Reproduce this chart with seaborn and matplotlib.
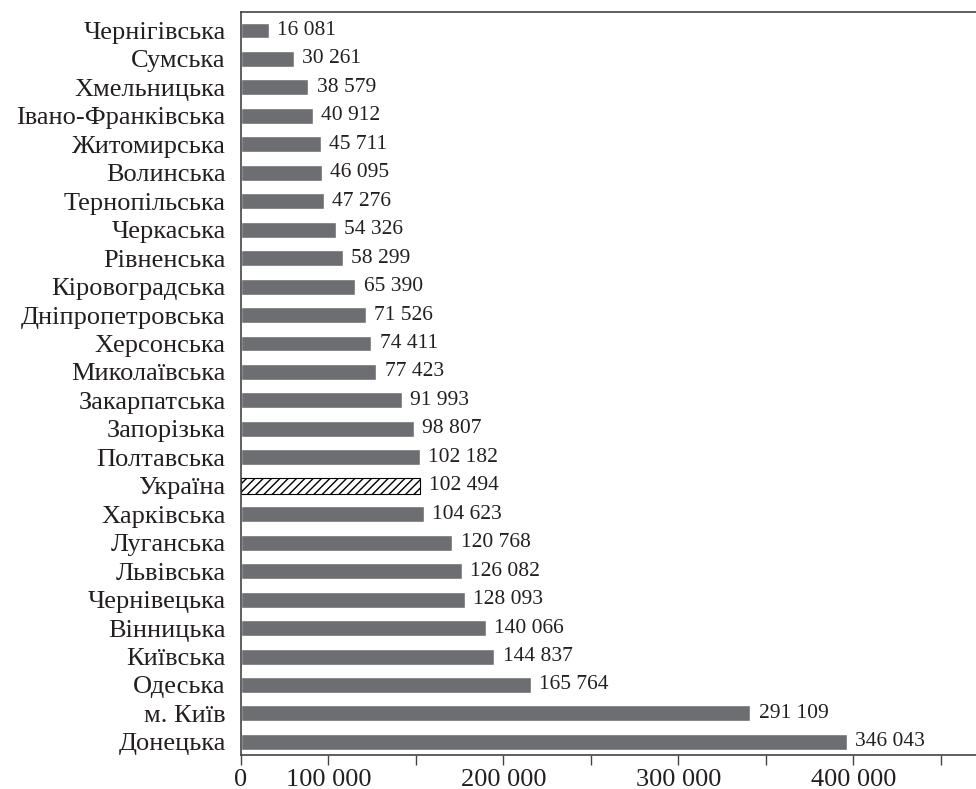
import matplotlib
matplotlib.use("Agg")
import matplotlib.pyplot as plt
import seaborn as sns
import pandas as pd

regions = ["Чернігівська", "Сумська", "Хмельницька", "Івано-Франківська",
           "Житомирська", "Волинська", "Тернопільська", "Черкаська",
           "Рівненська", "Кіровоградська", "Дніпропетровська", "Херсонська",
           "Миколаївська", "Закарпатська", "Запорізька", "Полтавська",
           "Україна", "Харківська", "Луганська", "Львівська", "Чернівецька",
           "Вінницька", "Київська", "Одеська", "м. Київ", "Донецька"]
values = [16081, 30261, 38579, 40912, 45711, 46095, 47276, 54326, 58299,
          65390, 71526, 74411, 77423, 91993, 98807, 102182, 102494, 104623,
          120768, 126082, 128093, 140066, 144837, 165764, 291109, 346043]
xtick_pos = [0, 50000, 100000, 150000, 200000, 250000, 300000, 350000, 400000]
xtick_labels = ["0", "100 000", "", "200 000", "", "300 000", "", "400 000", ""]

data = pd.DataFrame({"region": regions, "value": values})

sns.set_style("white")
plt.rcParams["font.family"] = ["Liberation Serif", "DejaVu Serif"]

fig = plt.figure(figsize=(9.76, 7.89), dpi=100)
ax = fig.add_axes([0.2469, 0.0431, 0.7531, 0.9417])

sns.barplot(data=data, x="value", y="region", orient="h", color="#6d6e71",
            saturation=1, width=0.56, ax=ax)

# Україна - hatched bar
for p, r in zip(ax.patches, regions):
    if r == "Україна":
        p.set_facecolor("white")
        p.set_edgecolor("black")
        p.set_linewidth(0.8)
        p.set_hatch("////")

ax.bar_label(ax.containers[0], labels=[f"{v:,}".replace(",", " ") for v in values],
             padding=6, fontsize=15.5, color="#231f20")

ax.set_xlim(0, 420000)
ax.set_ylim(25.46, -0.65)
ax.set_xticks(xtick_pos)
ax.set_xticklabels(xtick_labels, fontsize=19, color="#231f20")
ax.tick_params(axis="x", bottom=True, direction="out", length=7, width=1,
               color="#444444", pad=3)
ax.tick_params(axis="y", left=False, length=0, labelsize=19,
               labelcolor="#231f20", pad=11)
ax.set_xlabel("")
ax.set_ylabel("")

for s in ["left", "bottom", "top"]:
    ax.spines[s].set_color("#444444")
    ax.spines[s].set_linewidth(1.2)
ax.spines["right"].set_visible(False)

fig.savefig("out.png", dpi=100)
